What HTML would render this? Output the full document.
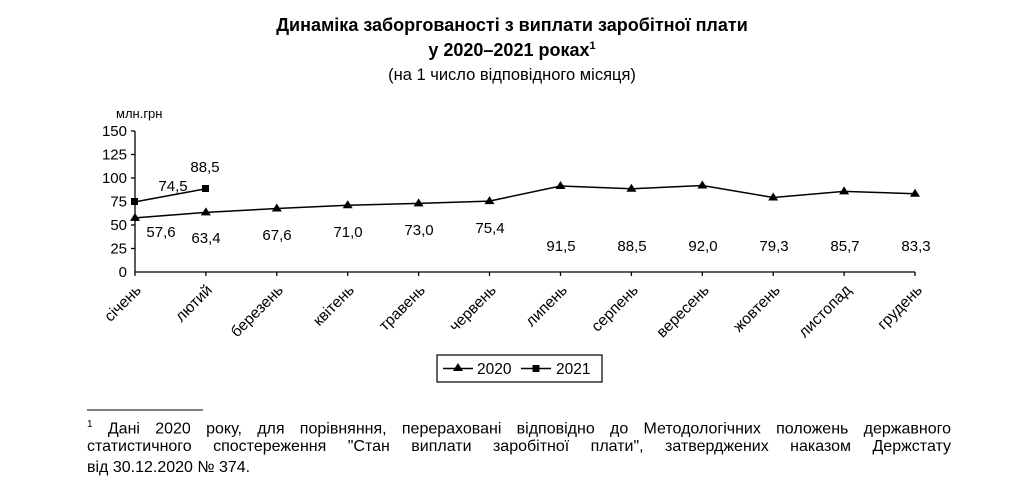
<!DOCTYPE html>
<html><head><meta charset="utf-8"><style>
body{margin:0;background:#fff;width:1024px;height:499px;overflow:hidden;font-family:"Liberation Sans","DejaVu Sans",sans-serif;}
.t{position:absolute;left:0;width:1024px;text-align:center;color:#000}
.fl{position:absolute;left:87px;width:864px;font-size:16px;line-height:20px;white-space:nowrap}
.j{text-align:justify;text-align-last:justify}
</style></head><body>
<div class="t" style="top:15px;font-weight:bold;font-size:18px">Динаміка заборгованості з виплати заробітної плати</div>
<div class="t" style="top:40px;font-weight:bold;font-size:18px">у 2020–2021 роках<sup style="font-size:11px">1</sup></div>
<div class="t" style="top:66px;font-size:16.5px">(на 1 число відповідного місяця)</div>
<svg width="1024" height="499" style="position:absolute;left:0;top:0" font-family="Liberation Sans, sans-serif" font-size="13">
<text x="116" y="118" font-size="13">млн.грн</text>
<g stroke="#000" stroke-width="1.3">
<line x1="135" y1="131" x2="135" y2="272"/><line x1="135" y1="272" x2="915" y2="272"/>
<line x1="131" y1="131" x2="135" y2="131"/><line x1="131" y1="154.5" x2="135" y2="154.5"/><line x1="131" y1="178" x2="135" y2="178"/><line x1="131" y1="201.5" x2="135" y2="201.5"/><line x1="131" y1="225" x2="135" y2="225"/><line x1="131" y1="248.5" x2="135" y2="248.5"/>
</g>
<g text-anchor="end" font-size="15">
<text x="127" y="136">150</text><text x="127" y="159.5">125</text><text x="127" y="183">100</text><text x="127" y="206.5">75</text><text x="127" y="230">50</text><text x="127" y="253.5">25</text><text x="127" y="277">0</text>
</g>
<polyline fill="none" stroke="#000" stroke-width="1.5" points="135,217.9 205.9,212.4 276.8,208.5 347.7,205.3 418.6,203.4 489.5,201.1 560.5,186 631.4,188.8 702.3,185.5 773.2,197.5 844.1,191.4 915,193.7"/>
<g fill="#000">
<path d="M135,212.9l5,8h-10z"/><path d="M205.9,207.4l5,8h-10z"/><path d="M276.8,203.5l5,8h-10z"/><path d="M347.7,200.3l5,8h-10z"/><path d="M418.6,198.4l5,8h-10z"/><path d="M489.5,196.1l5,8h-10z"/><path d="M560.5,181l5,8h-10z"/><path d="M631.4,183.8l5,8h-10z"/><path d="M702.3,180.5l5,8h-10z"/><path d="M773.2,192.5l5,8h-10z"/><path d="M844.1,186.4l5,8h-10z"/><path d="M915,188.7l5,8h-10z"/>
</g>
<polyline fill="none" stroke="#000" stroke-width="1.5" points="135,201.9 205.9,188.8"/>
<rect x="131" y="198" width="7" height="7"/><rect x="202" y="185" width="7" height="7"/>
<g font-size="15" text-anchor="middle">
<text x="173" y="191">74,5</text><text x="205" y="172">88,5</text>
<text x="161" y="237">57,6</text><text x="206" y="243">63,4</text><text x="277" y="240">67,6</text><text x="348" y="237">71,0</text><text x="419" y="235">73,0</text><text x="490" y="233">75,4</text><text x="561" y="251">91,5</text><text x="632" y="251">88,5</text><text x="703" y="251">92,0</text><text x="774" y="251">79,3</text><text x="845" y="251">85,7</text><text x="916" y="251">83,3</text>
</g>
<g stroke="#000" stroke-width="1.3">
<line x1="135" y1="272" x2="135" y2="276"/><line x1="205.9" y1="272" x2="205.9" y2="276"/><line x1="276.8" y1="272" x2="276.8" y2="276"/><line x1="347.7" y1="272" x2="347.7" y2="276"/><line x1="418.6" y1="272" x2="418.6" y2="276"/><line x1="489.5" y1="272" x2="489.5" y2="276"/><line x1="560.5" y1="272" x2="560.5" y2="276"/><line x1="631.4" y1="272" x2="631.4" y2="276"/><line x1="702.3" y1="272" x2="702.3" y2="276"/><line x1="773.2" y1="272" x2="773.2" y2="276"/><line x1="844.1" y1="272" x2="844.1" y2="276"/><line x1="915" y1="272" x2="915" y2="276"/>
</g>
<g font-size="15.5" text-anchor="end">
<text transform="translate(142,291) rotate(-45)">січень</text>
<text transform="translate(213,291) rotate(-45)">лютий</text>
<text transform="translate(284,291) rotate(-45)">березень</text>
<text transform="translate(355,291) rotate(-45)">квітень</text>
<text transform="translate(426,291) rotate(-45)">травень</text>
<text transform="translate(497,291) rotate(-45)">червень</text>
<text transform="translate(568,291) rotate(-45)">липень</text>
<text transform="translate(639,291) rotate(-45)">серпень</text>
<text transform="translate(710,291) rotate(-45)">вересень</text>
<text transform="translate(781,291) rotate(-45)">жовтень</text>
<text transform="translate(852,291) rotate(-45)">листопад</text>
<text transform="translate(923,291) rotate(-45)">грудень</text>
</g>
<rect x="437" y="355" width="165" height="27" fill="none" stroke="#000" stroke-width="1.2"/>
<line x1="443" y1="368.5" x2="473" y2="368.5" stroke="#000" stroke-width="1.5"/><path d="M458,363l5,8h-10z"/>
<text x="477" y="374" font-size="15.5">2020</text>
<line x1="521" y1="368.5" x2="551" y2="368.5" stroke="#000" stroke-width="1.5"/><rect x="532.5" y="365" width="7" height="7"/>
<text x="556" y="374" font-size="15.5">2021</text>
<line x1="87" y1="410" x2="203" y2="410" stroke="#000" stroke-width="1"/>
</svg>
<div class="fl j" style="top:415px"><sup style="font-size:10px">1</sup> Дані 2020 року, для порівняння, перераховані відповідно до Методологічних положень державного</div>
<div class="fl j" style="top:437px">статистичного спостереження "Стан виплати заробітної плати", затверджених наказом Держстату</div>
<div class="fl" style="top:458px">від 30.12.2020 № 374.</div>
</body></html>
